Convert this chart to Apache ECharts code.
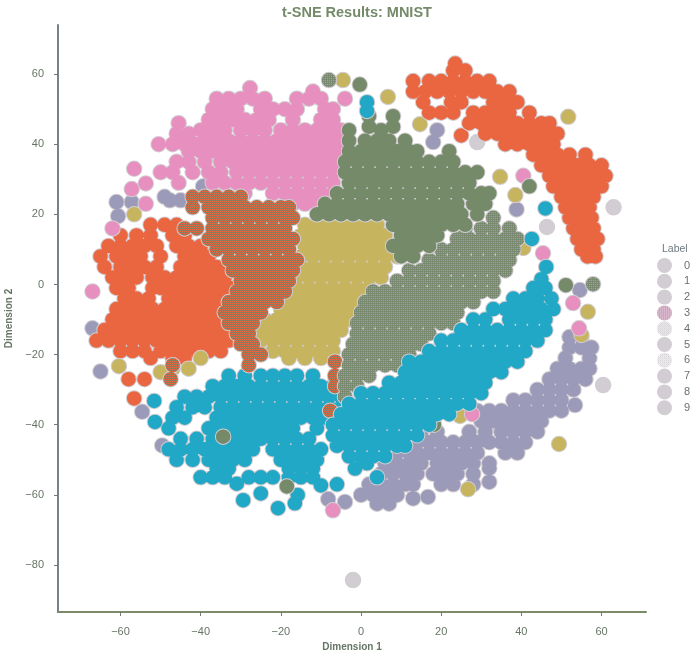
<!DOCTYPE html>
<html><head><meta charset="utf-8">
<style>html,body{margin:0;padding:0;background:#fff}#c{width:700px;height:655px}</style>
<script src="https://cdn.jsdelivr.net/npm/echarts@6/dist/echarts.min.js"></script>
</head><body><div id="c"></div>
<script>
// Each row: [y, x, x, x ...]; extras: [x, y]
const tickLabelsX = [-60,-40,-20,0,20,40,60];
const tickLabelsY = [-80,-60,-40,-20,0,20,40,60];
const labels = ['0','1','2','3','4','5','6','7','8','9'];

const rows0 = [[63,23.5],[61,23,26],[58,13,17,20,23,26,29,32],[55,13,16,19,22,25,28,31,34,37],[52,15.5,22.5,25,33,36,39],[49,17,20,23,28,31,34,37,42],[46,27,30,33,36,39,42,45,47],[43,31,34,37,40,43,46,49],[40,36,39,42,45,48],[37,43,46,49,52,56],[34,45,48,51,54,57,60],[31,47,50,53,56,59,61],[28,48,51,54,57,60],[25,50,53,56,58],[22,51,54,57],[19,52,55,57.5],[16,53,56,58],[13,54,57,59],[10,55,58],[8,56.5,58.5]];
const extra0 = [];
const rows1 = [[1.5,45],[-1,43,46],[-4,38,41,44,47.5],[-7,33,36,39,42,45,48],[-10,28,31,37,40,43,46],[-13,25,28,31,34,37,40,43,46],[-16,20,23,26,29,32,35,38,41,44],[-19,17,20,23,26,29,32,35,38,41],[-22,12,15,18,21,24,27,30,33,36,39],[-25,11,14,17,20,23,26,29,32,35],[-28,7,10,13,16,19,22,25,28,31],[-31,0,3,6,9,12,15,18,21,24,27,30],[-34,-3,0,3,6,9,12,15,18,21,24,27],[-37,-5,-2,1,4,7,10,13,16,19,22],[-40,-7,-4,-1,2,5,8,11,14,17],[-43,-7,-4,-1,2,5,8,11,14],[-46,-6,-3,0,3,6,9,11],[-49,-3,0,3,6],[-51,1.5]];
const extra1 = [[42.6,13],[46.2,5],[1.5,52],[1.5,49.5],[4,-55],[-1.5,-52.5]];
const rows2 = [[17,-14,-11,-8,-5,-2,1,4],[14,-15,-12,-9,-6,-3,0,3,6],[11,-14,-11,-8,-5,-2,1,4,7,9],[8,-15,-12,-9,-6,-3,0,3,6,9],[5,-15,-12,-9,-6,-3,0,3,6],[2,-16,-13,-10,-7,-4,-1,2,5],[-1,-16,-13,-10,-7,-4,-1,2],[-4,-18,-15,-12,-9,-6,-3,0],[-7,-20,-17,-14,-11,-8,-5,-2],[-10,-24,-21,-18,-15,-12,-9,-6,-3],[-13,-26,-23,-20,-17,-14,-11,-8,-5],[-16,-25,-22,-19,-16,-13,-10,-7],[-19,-22,-19,-16,-13,-10,-7],[-21,-18,-14,-10]];
const extra2 = [[-4.5,58.3],[6.7,53.5],[14.7,45.7],[51.7,47.8],[34.7,30.7],[38.5,25.5],[40.5,10.4],[49.4,-45.5],[26.7,-58.4],[24.7,-37.5],[55,-14.4],[56.6,-7.8],[-60.4,-23.3],[-56.6,20],[-43,-24],[-40,-21],[-47,-24],[-50,-25]];
const rows3 = [[56,-27.7],[55,-12],[53,-36,-33,-30,-27,-24,-16,-13,-10],[50,-37,-34,-31,-25,-22,-19,-16,-9,-7],[47,-38,-35,-32,-29,-26,-23,-17,-10,-7],[46,-45.5],[44,-40,-37,-34,-30,-27,-24,-20,-17,-14,-11,-8,-5],[43,-46,-43],[41,-39,-36,-33,-30,-27,-24,-21,-18,-15,-12,-9,-6],[40,-50.5,-47,-44,-41],[38,-43,-40,-37,-34,-31,-28,-25,-22,-19,-16,-13,-10,-7,-4],[35,-46,-43,-39,-35,-32,-29,-26,-23,-20,-17,-14,-11,-8,-5],[32,-50,-47,-42,-38,-35,-31,-28,-25,-22,-19,-16,-13,-10,-7,-4],[29,-45.5,-37,-34,-31,-28,-25,-22,-19,-16,-13,-10,-7],[26,-29,-22,-19,-16,-13,-10,-7],[23,-17,-14,-11]];
const extra3 = [[-56.6,33],[-57.2,27.2],[-53.7,28.8],[-53.7,23],[-62,16],[-67,-2],[-4,53],[40.5,31],[45.4,8.9],[52.9,-5.3],[54.4,-12.5],[27.7,-37],[-7,-64.4]];
const rows4 = [[-15,52,55],[-18,52,55,57.5],[-21,51,57],[-24,49,52,55,57],[-27,47,50,53,56],[-30,44,47,50,53],[-33,38,41,44,47,50],[-36,29,32,35,38,41,44,47,50],[-39,30,33,36,39,42,45],[-42,15,19,27,31,35,38,41,44],[-45,14,17,20,23,26,29,32,35,38,41],[-48,9,12,14,17,20,23,26,29,36,39],[-51,6,9,12,15,19,22,25,28,32],[-54,5,8,11,14,18,21,24,28],[-57,2,5,8,11,20,23,28],[-60,0,3,6,9],[-62.5,4,7]];
const extra4 = [[-65,-24.8],[-54.6,-36.3],[-49.6,-45.9],[-30,-37.9],[-30.2,-29.6],[-8.2,-61.2],[-4,-62],[13,-61],[16.7,-60.6],[13,-57],[32,-56.3],[32,-52.4],[38.8,21.4],[18,40.6],[54.6,-1.6],[53.4,-34.4],[-61,23.5],[-57.2,23.5],[-60.6,19.5],[-67,-12.5],[-47.7,24],[-49,25],[-45,24],[-39.4,28],[-34.7,29],[-30,28],[19,44]];
const rows5 = [[17,-52.5,-49,-46],[14,-60,-56,-52.5,-47,-44],[11,-63,-60,-57,-54,-51,-46,-43,-40],[8,-65,-61,-58,-55,-50,-44,-41,-38],[5,-64,-60,-57,-54,-51,-45,-42,-39,-36,-33],[2,-62,-59,-56,-52,-49,-46,-43,-40,-37,-34],[-1,-61,-58,-52,-50,-47,-44,-41,-38,-35,-32],[-4,-59,-56,-53,-48,-45,-42,-39,-36,-33],[-7,-61,-58,-55,-52,-49,-46,-43,-40,-37,-34],[-10,-62,-59,-56,-53,-50,-47,-44,-41,-38,-35],[-13,-64,-61,-58,-55,-52,-49,-46,-43,-40,-37,-34],[-16,-66,-63,-60,-57,-54,-51,-48,-45,-42,-39,-36,-33],[-19,-60,-57,-54,-50,-47,-44,-41,-38,-35],[-21,-52.5,-47,-44]];
const extra5 = [[-58,-27],[-54,-27],[-56.6,-32.5],[25,42.5]];
const rows6 = [[-26,-33,-29,-25,-22,-19,-16,-12],[-29,-37,-34,-31,-28,-25,-22,-19,-16,-13,-10,-7],[-32,-44,-41,-38,-35,-32,-29,-26,-23,-20,-17,-14,-11,-8,-5],[-35,-46,-42,-39,-35,-32,-29,-26,-23,-20,-17,-14,-11,-8,-5],[-38,-47,-44,-36,-33,-30,-27,-24,-21,-18,-15,-12,-9],[-41,-48,-38,-35,-32,-29,-26,-23,-20,-17,-11],[-44,-45,-41,-37,-34,-31,-28,-25,-22,-19,-16,-13],[-47,-48,-45,-42,-39,-36,-33,-30,-27,-22,-19,-16,-13,-10],[-50,-46,-42,-38,-35,-32,-29,-20,-17,-14,-11],[-52.5,-36,-33,-18,-15,-12],[-55,-40,-37,-34,-28,-25,-22,-18,-15,-12],[-57,-6]];
const extra6 = [[-51.6,-33.2],[-51.4,-39.2],[-29.4,-61.5],[-25,-59.6],[-31,-56.8],[-10,-57.3],[-20.7,-63.8],[-16.5,-62.4],[-15.8,-60],[46,21.7]];
const rows7 = [[57,-0.3],[48,2,8],[45,2,8],[44,-3,5],[41,-3,1,4,7,11],[38,-3,0,3,6,9,12,14,22],[35,-4,-1,2,5,8,11,14,17,20,23],[32,-4,-1,2,5,8,11,14,17,20,23,26,29],[29,-3,0,3,6,9,12,15,18,21,24,27],[26,-6,-3,0,3,6,9,12,15,18,21,24,27,30,32],[23,-9,-6,-3,0,3,6,9,12,15,18,21,24,28,31],[20,-11,-8,-5,-2,1,4,7,10,13,16,19,22,25,29],[17,8,11,14,17,20,23,26],[14,10,13,16,19],[11,8,11,14,17],[8,10,13]];
const extra7 = [[42,28],[51.1,-0.2],[18.2,-40],[-34.4,-43.4],[-18.5,-57.6]];
const rows8 = [[25,-42,-39,-36,-33,-30],[22,-42,-38,-35,-32,-29,-26,-23,-20,-18],[19,-37,-34,-31,-28,-25,-22,-19,-17],[16,-44,-41,-37,-34,-31,-28,-25,-22,-19],[13,-38,-35,-32,-29,-26,-23,-20,-17],[10,-36,-33,-30,-27,-24,-21,-18],[7,-33,-30,-27,-24,-21,-18,-16],[4,-32,-29,-26,-23,-20,-17],[1,-30,-27,-24,-21,-18],[-2,-31,-28,-25,-22,-19],[-5,-33,-30,-27,-24,-21],[-8,-34,-31,-28,-25],[-11,-33,-30,-27],[-14,-31,-28],[-17,-30,-27],[-20,-28,-25],[-23,-28],[-22,-6.5],[-26,-6.5],[-29,-6.5]];
const extra8 = [[-7.7,-36],[-47,-23],[-47.5,-27]];
const rows9 = [[19,33],[16,26,30,33,37],[13,24,27,30,33,36,39],[10,20,23,26,29,32,35,38],[7,17,20,23,26,29,32,35,37],[4,12,15,18,21,24,27,30,33,36],[1,9,12,15,18,21,24,27,30,33],[-2,3,6,9,12,15,18,21,24,27,30,33],[-5,1,4,7,10,13,16,19,22,25,28],[-8,0,3,6,9,12,15,18,21,24],[-11,-1,2,5,8,11,14,17,20,23],[-14,-1,2,5,8,11,14,17],[-17,-2,1,4,7,10,13,15],[-20,-3,0,3,6,9,12],[-23,-3,0,3,6,9],[-26,-4,-1,2],[-29,-4,-1],[-32,-4]];
const extra9 = [[-8,58.3],[57.9,0.1]];
const extraGrey = [[-2,-84.3],[63,22],[46.4,16.4],[29,40.6],[60.4,-28.7]];

const pts = (rows, extra) => rows.flatMap(r => r.slice(1).map(x => [x, r[0]])).concat(extra);

function dither(colors) {
  const k = document.createElement('canvas'); k.width = 2; k.height = 2;
  const g = k.getContext('2d');
  colors.forEach((col, i) => { g.fillStyle = col; g.fillRect(i % 2, i >> 1, 1, 1); });
  return k;
}
const SIZE = 14.5, HALO_SIZE = 16.5;
const pat = (colors) => ({ image: dither(colors), repeat: 'repeat' });

const ORANGE='#ea6640', TEAL='#21a8c6', YELLOW='#c6b55e', PINK='#e78fbe', LAV='#9b9ab8', GREEN='#748a69', GREY='#d2cdd2';
const HALO = '#d2cdd2';
const MIX_OG = '#8a7c5c', MIX_GL = '#808a7a';
const specs = [
  ['4', rows4, extra4, LAV], ['5', rows5, extra5, ORANGE], ['6', rows6, extra6, TEAL],
  ['2', rows2, extra2, YELLOW], ['3', rows3, extra3, PINK],
  ['8', rows8, extra8, pat([MIX_OG, GREEN, ORANGE, MIX_OG])], ['9', rows9, extra9, pat([MIX_GL, LAV, GREEN, MIX_GL])],
  ['7', rows7, extra7, GREEN], ['1', rows1, extra1, TEAL], ['0', rows0, extra0, ORANGE]
];
const series = [];
let layer = 2;
const common = { type: 'scatter', symbol: 'circle', large: true, largeThreshold: 0, animation: false, silent: true };
series.push(Object.assign({}, common, { name: 'strayGrey', symbolSize: HALO_SIZE, data: extraGrey, z: layer++,
  itemStyle: { color: GREY, opacity: 1 } }));
specs.forEach(s => {
  const d = pts(s[1], s[2]);
  series.push(Object.assign({}, common, { name: 'halo' + s[0], symbolSize: HALO_SIZE, data: d, z: layer++,
    itemStyle: { color: HALO, opacity: 1 } }));
  series.push(Object.assign({}, common, { name: s[0], symbolSize: SIZE, data: d, z: layer++,
    itemStyle: { color: s[3], opacity: 1 } }));
});

const legendColor = { '3': pat(['#e0a3c6', GREY, PINK, '#e0a3c6']), '4': pat(['#dcd8dc', '#efecef', '#efecef', GREY]), '6': pat(['#e2dfe2', '#f3f1f3', '#f3f1f3', GREY]) };
const TXT = '#667565';
const chart = echarts.init(document.getElementById('c'), null, { renderer: 'canvas' });
chart.setOption({
  animation: false,
  textStyle: { fontFamily: 'Liberation Sans' },
  title: [
    { text: 't-SNE Results: MNIST', left: 352, top: 0, textAlign: 'center',
      textStyle: { fontSize: 14.5, fontWeight: 'bold', color: '#748a69', fontFamily: 'Liberation Sans' } },
    { text: 'Label', left: 657, top: 239, textStyle: { fontSize: 10.5, fontWeight: 'normal', color: '#6d7a80', fontFamily: 'Liberation Sans' } }
  ],
  legend: { orient: 'vertical', left: 652, top: 253, itemWidth: 15, itemHeight: 15, itemGap: 0.8, icon: 'circle', selectedMode: false,
    data: labels.map(n => ({ name: n, itemStyle: { color: legendColor[n] || GREY, borderWidth: 0 } })),
    textStyle: { fontSize: 11, color: TXT, padding: [0,0,0,7] } },
  grid: { left: 58, right: 54, top: 25, bottom: 43, containLabel: false, outerBoundsMode: 'none' },
  xAxis: { type: 'value', min: -75.6, max: 71.1, name: 'Dimension 1', nameLocation: 'middle', nameGap: 28,
    nameTextStyle: { fontSize: 10, fontWeight: 'bold', color: TXT },
    splitLine: { show: false },
    axisLine: { onZero: false, lineStyle: { color: '#7b8a68', width: 2 } },
    axisTick: { length: 4, customValues: tickLabelsX, lineStyle: { color: '#6f7d6c', width: 1 } },
    axisLabel: { customValues: tickLabelsX, fontSize: 11, color: TXT, margin: 14, formatter: v => String(v).replace('-', '\u2212') } },
  yAxis: { type: 'value', min: -93.4, max: 74, name: 'Dimension 2', nameLocation: 'middle', nameGap: 41,
    nameTextStyle: { fontSize: 10, fontWeight: 'bold', color: TXT },
    splitLine: { show: false },
    axisLine: { onZero: false, lineStyle: { color: '#78808a', width: 2 } },
    axisTick: { length: 4, customValues: tickLabelsY, lineStyle: { color: '#6f7d6c', width: 1 } },
    axisLabel: { customValues: tickLabelsY, fontSize: 11, color: TXT, margin: 14, formatter: v => String(v).replace('-', '\u2212') } },
  series
});
</script></body></html>
